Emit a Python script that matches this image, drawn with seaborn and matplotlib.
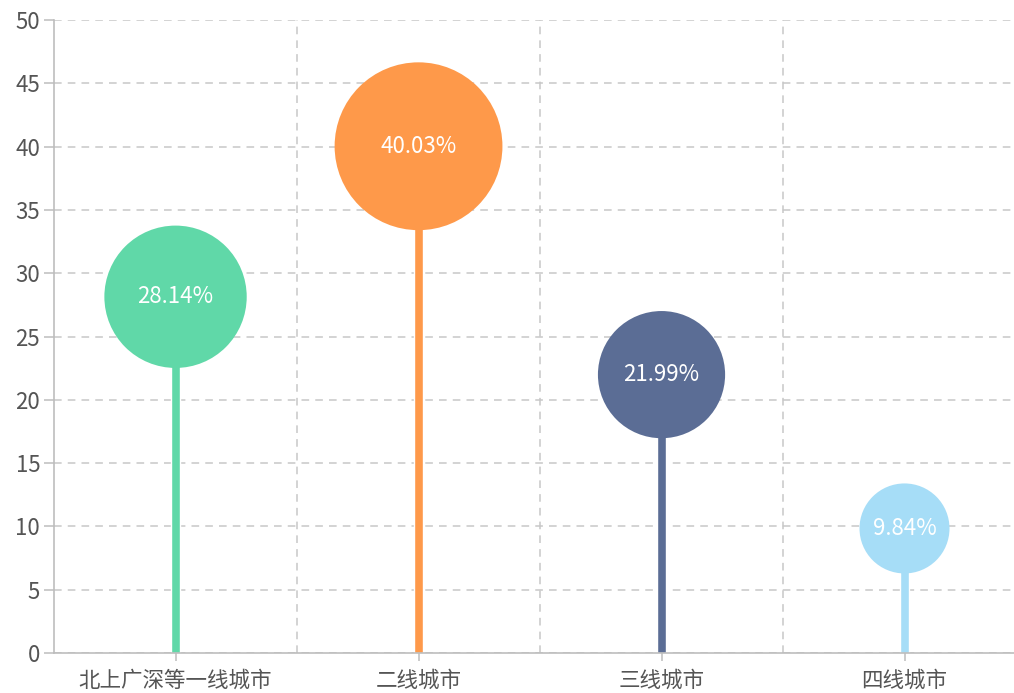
import seaborn as sns
import matplotlib.pyplot as plt
import pandas as pd
from matplotlib.ticker import FixedLocator

# 数据
cities = ['北上广深等一线城市', '二线城市', '三线城市', '四线城市']
shares = [28.14, 40.03, 21.99, 9.84]
colors = ['#60d8a8', '#fe994a', '#5b6d95', '#a6ddf7']

df = pd.DataFrame({'city': cities, 'share': shares})
df['pos'] = range(len(cities))

sns.set_style('white')
plt.rcParams['font.family'] = ['Noto Sans CJK SC', 'DejaVu Sans']

fig = plt.figure(figsize=(10.14, 6.93), dpi=100)
ax = fig.add_axes([0.0533, 0.0577, 0.9467, 0.9134])

# 竖线（棒）
sns.barplot(data=df, x='city', y='share', hue='city', palette=colors,
            width=0.035, legend=False, ax=ax, zorder=2, saturation=1)

# 圆
sns.scatterplot(data=df, x='pos', y='share', hue='city', palette=colors,
                size='share', sizes=(4200, 14600), linewidth=0,
                legend=False, ax=ax, zorder=3)

for i, v in enumerate(shares):
    ax.text(i, v, f'{v:.2f}%', color='white', fontsize=16,
            ha='center', va='center', zorder=4)

ax.set_xlim(-0.5, -0.5 + 960 / 243)
ax.set_ylim(0, 50)
ax.set_yticks(range(0, 51, 5))
ax.set_xticks(range(len(cities)))
ax.set_xticklabels(cities)
ax.xaxis.set_minor_locator(FixedLocator([0.5, 1.5, 2.5]))
ax.set_xlabel('')
ax.set_ylabel('')

ax.grid(False)
ax.yaxis.grid(True, which='major', linestyle=(0, (5, 4)), color='#c8c8c8', linewidth=1.1, zorder=0)
ax.xaxis.grid(True, which='minor', linestyle=(0, (5, 4)), color='#c8c8c8', linewidth=1.1, zorder=0)
ax.set_axisbelow(True)

for s in ['top', 'right']:
    ax.spines[s].set_visible(False)
for s in ['left', 'bottom']:
    ax.spines[s].set_color('#bdbdbd')
    ax.spines[s].set_linewidth(1.2)

ax.tick_params(axis='y', which='major', length=7, width=1.1, color='#bdbdbd',
               labelsize=16, labelcolor='#555555', left=True, pad=3)
ax.tick_params(axis='x', which='major', length=6, width=1.1, color='#bdbdbd',
               labelsize=15.5, labelcolor='#555555', bottom=True, pad=6)
ax.tick_params(axis='x', which='minor', length=0)

plt.savefig('out.png', dpi=100)
